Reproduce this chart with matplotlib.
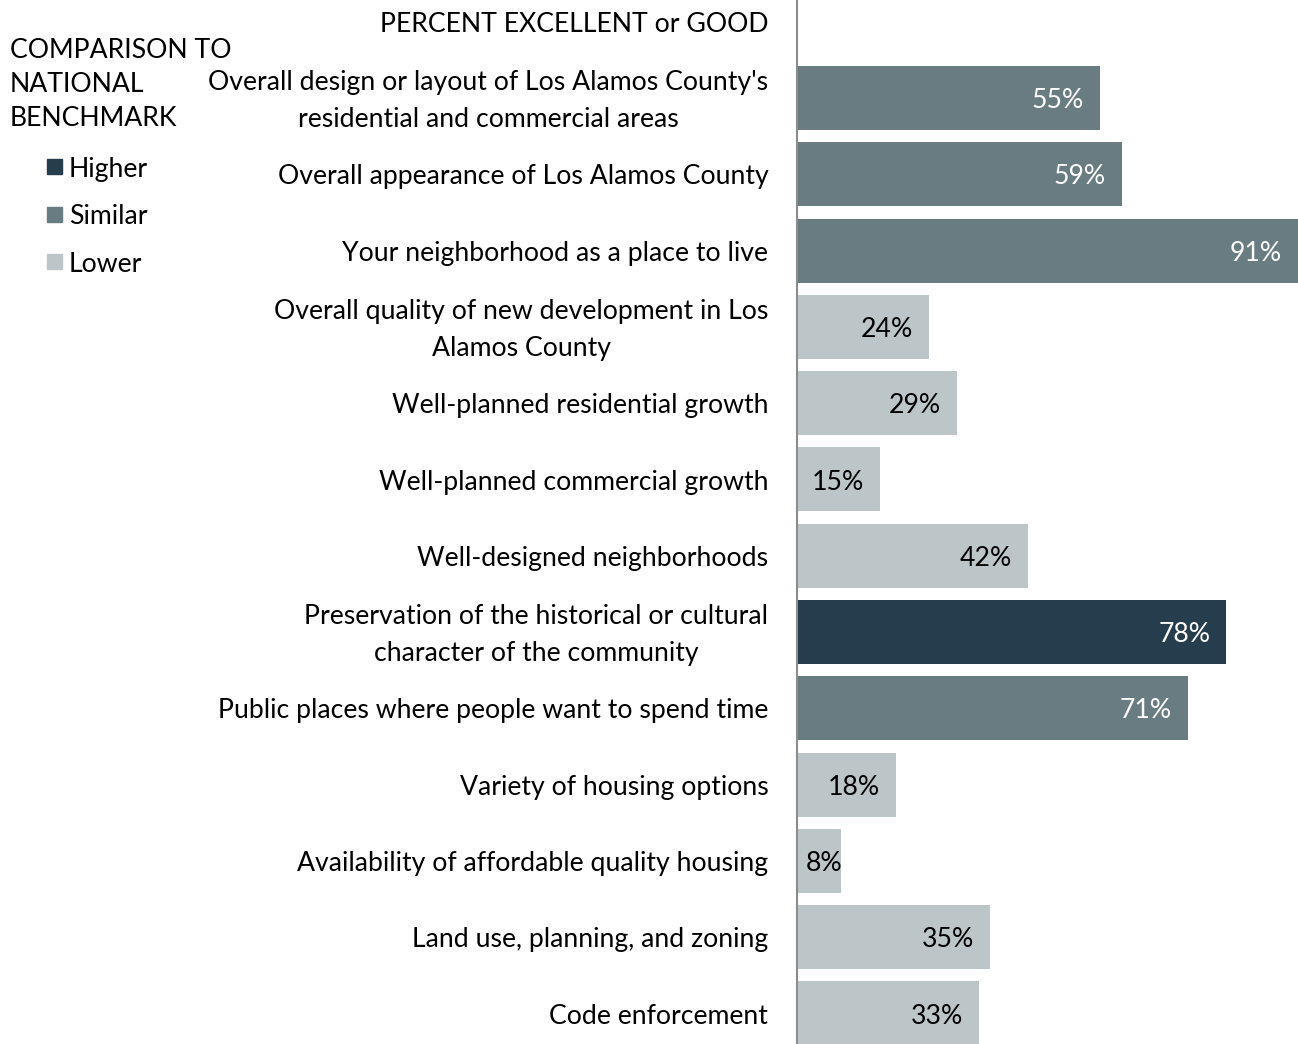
import matplotlib.pyplot as plt
from matplotlib.patches import Rectangle

plt.rcParams["font.family"] = ["Lato", "DejaVu Sans"]

labels = [
    "Overall design or layout of Los Alamos County's\nresidential and commercial areas",
    "Overall appearance of Los Alamos County",
    "Your neighborhood as a place to live",
    "Overall quality of new development in Los\nAlamos County",
    "Well-planned residential growth",
    "Well-planned commercial growth",
    "Well-designed neighborhoods",
    "Preservation of the historical or cultural\ncharacter of the community",
    "Public places where people want to spend time",
    "Variety of housing options",
    "Availability of affordable quality housing",
    "Land use, planning, and zoning",
    "Code enforcement",
]
values = [55, 59, 91, 24, 29, 15, 42, 78, 71, 18, 8, 35, 33]
comparison = ["Similar", "Similar", "Similar", "Lower", "Lower", "Lower", "Lower",
              "Higher", "Similar", "Lower", "Lower", "Lower", "Lower"]
legend_items = ["Higher", "Similar", "Lower"]

colors = {"Higher": "#263d4e", "Similar": "#697c82", "Lower": "#bcc5c8"}
text_colors = {"Higher": "white", "Similar": "white", "Lower": "black"}

fig = plt.figure(figsize=(12.98, 10.44), dpi=100)
ax = fig.add_axes([797 / 1298, 0, 501 / 1298, 1])

ypos = list(range(len(values)))
ax.barh(ypos, values, height=0.84, color=[colors[c] for c in comparison])
ax.set_xlim(0, 91)
ax.set_ylim(12.4, -1.284)
for s in ["top", "right", "bottom"]:
    ax.spines[s].set_visible(False)
ax.spines["left"].set_color("#8c8c8c")
ax.spines["left"].set_linewidth(1.5)
ax.set_xticks([])
ax.set_yticks([])

fs = 19.2
dy = 0.035
for y, v, c, lab in zip(ypos, values, comparison, labels):
    if v >= 12:
        ax.text(v - 2.9, y + dy, f"{v}%", ha="right", va="center", fontsize=fs,
                color=text_colors[c])
    else:
        ax.text(1.6, y + dy, f"{v}%", ha="left", va="center", fontsize=fs,
                color=text_colors[c])
    ax.text(-5.2, y + dy, lab, ha="right", va="center", fontsize=fs,
            multialignment="center", linespacing=1.6, color="black",
            clip_on=False)

fig.text(768 / 1298, 1 - 24 / 1044, "PERCENT EXCELLENT or GOOD", ha="right",
         va="center", fontsize=fs)
fig.text(10 / 1298, 1 - 85 / 1044, "COMPARISON TO\nNATIONAL\nBENCHMARK",
         ha="left", va="center", fontsize=fs, linespacing=1.45)

for i, name in enumerate(legend_items):
    yc = 169 + i * 47.5
    fig.patches.append(Rectangle((47 / 1298, 1 - (yc + 5) / 1044), 15 / 1298,
                                 15 / 1044, transform=fig.transFigure,
                                 color=colors[name]))
    fig.text(69 / 1298, 1 - yc / 1044, name, ha="left", va="center", fontsize=fs)

fig.savefig("out.png", dpi=100)
